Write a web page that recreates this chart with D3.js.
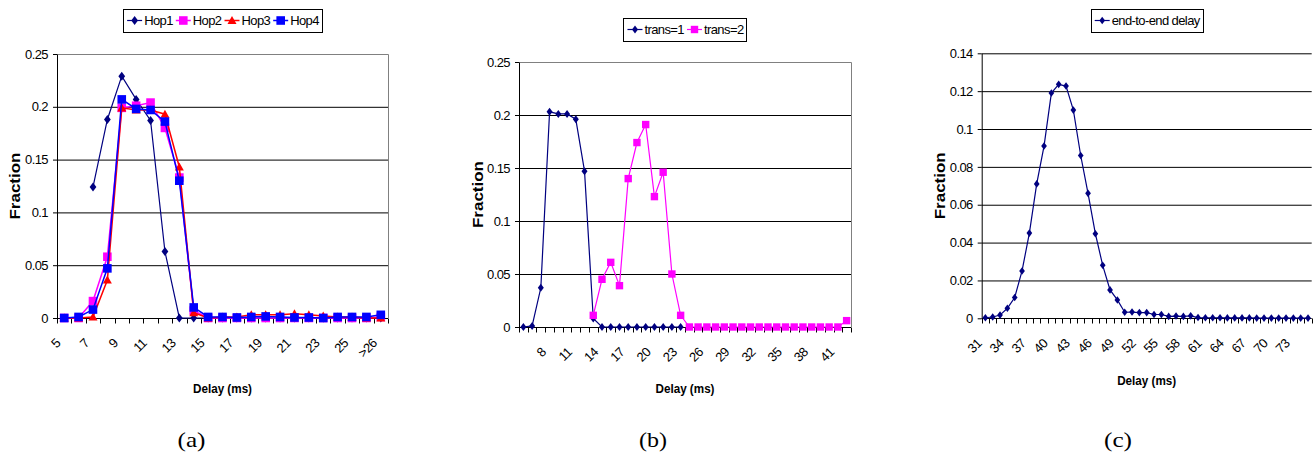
<!DOCTYPE html>
<html lang="en">
<head>
<meta charset="UTF-8">
<title>Delay distributions</title>
<script src="https://d3js.org/d3.v7.min.js"></script>
<style>
  body { margin: 0; background: #fff; }
  svg { display: block; }
  .caption { font-family: "Liberation Serif", "Times New Roman", serif; font-size: 21px; }
</style>
</head>
<body>
<svg width="1314" height="452"></svg>
<script>
// ---- (a) per-hop delay ----
const hopCats = ["5","6","7","8","9","10","11","12","13","14","15","16","17","18","19","20","21","22","23","24","25","26",">26"];
const hopTicks = ["5","7","9","11","13","15","17","19","21","23","25",">26"];
const hop1 = [null, null, 0.124, 0.188, 0.229, 0.207, 0.187, 0.063, 0, 0, 0, 0, 0, 0, 0, 0, 0, 0, 0, 0, 0, 0, 0];
const hop2 = [0, 0, 0.016, 0.058, 0.199, 0.201, 0.204, 0.180, 0.133, 0.007, 0, 0, 0, 0, 0, 0, 0, 0, 0, 0, 0, 0, 0.001];
const hop3 = [0, 0, 0.001, 0.036, 0.199, 0.197, 0.197, 0.193, 0.143, 0.005, 0, 0.001, 0.001, 0.003, 0.003, 0.003, 0.004, 0.003, 0.002, 0.001, 0.001, 0, 0];
const hop4 = [0, 0.001, 0.008, 0.047, 0.207, 0.198, 0.197, 0.186, 0.130, 0.010, 0.001, 0.001, 0.0005, 0.001, 0.0015, 0.001, 0.0005, 0.0005, 0, 0.001, 0.001, 0.001, 0.003];
const hopY = [0, 0.05, 0.1, 0.15, 0.2, 0.25];

// ---- (b) transmissions ----
const transCats = ["5","6","7","8","9","10","11","12","13","14","15","16","17","18","19","20","21","22","23","24",
  "25","26","27","28","29","30","31","32","33","34","35","36","37","38","39","40","41","42"];
const transTicks = ["8","11","14","17","20","23","26","29","32","35","38","41"];
const trans1 = [0, 0.001, 0.037, 0.203, 0.201, 0.201, 0.196, 0.147, 0.008, 0, 0, 0, 0, 0, 0, 0, 0, 0, 0,
  null, null, null, null, null, null, null, null, null, null, null, null, null, null, null, null, null, null, null];
const trans2 = [null, null, null, null, null, null, null, null,
  0.011, 0.045, 0.061, 0.039, 0.140, 0.174, 0.191, 0.123, 0.146, 0.050, 0.011,
  0, 0, 0, 0, 0, 0, 0, 0, 0, 0, 0, 0, 0, 0, 0, 0, 0, 0, 0.006];
const transY = [0, 0.05, 0.1, 0.15, 0.2, 0.25];

// ---- (c) end-to-end ----
const e2eCats = ["31","32","33","34","35","36","37","38","39","40","41","42","43","44","45","46","47","48","49","50",
  "51","52","53","54","55","56","57","58","59","60","61","62","63","64","65","66","67","68","69","70",
  "71","72","73","74","75"];
const e2eTicks = ["31","34","37","40","43","46","49","52","55","58","61","64","67","70","73"];
const e2e = [0.0003, 0.0007, 0.0017, 0.0053, 0.011, 0.025, 0.045, 0.071, 0.091, 0.119,
  0.1236, 0.1227, 0.110, 0.086, 0.066, 0.0447, 0.028, 0.015, 0.0097, 0.0032,
  0.0033, 0.003, 0.003, 0.002, 0.002, 0.001, 0.0012, 0.001, 0.0013, 0.0004,
  0.0003, 0.0003, 0.0003, 0.0002, 0.0002, 0.0002, 0.0002, 0.0001, 0.0001, 0.0001,
  0.0001, 0.0001, 0.0001, 0.0001, 0.0001];
const e2eY = [0, 0.02, 0.04, 0.06, 0.08, 0.1, 0.12, 0.14];

const FONT = '"Liberation Sans", Arial, sans-serif';
const svg = d3.select("svg");

// marker shapes, s = half size
function marker(shape, s) {
  if (shape === "diamond") return `M0,${-s}L${s * 0.75},0L0,${s}L${-s * 0.75},0Z`;
  if (shape === "square") return `M${-s},${-s}H${s}V${s}H${-s}Z`;
  return `M0,${-s}L${s},${s * 0.8}L${-s},${s * 0.8}Z`;
}

function drawPanel(p) {
  const g = svg.append("g");
  const x = d3.scaleBand().domain(p.cats).range([p.left, p.right]);
  const y = d3.scaleLinear().domain([0, p.ymax]).range([p.bottom, p.top]);
  const cx = c => x(c) + x.bandwidth() / 2;

  // gridlines
  const grid = p.yTicks.filter(v => v > 0 && (v < p.ymax || !p.frame));
  g.append("g")
   .attr("transform", `translate(${p.left},0)`)
   .call(d3.axisLeft(y).tickValues(grid).tickSize(-(p.right - p.left)).tickFormat(""))
   .call(a => a.select(".domain").remove())
   .selectAll("line").attr("stroke", "#000");

  // gray plot frame (top + right)
  if (p.frame) {
    g.append("path")
     .attr("d", `M${p.left},${Math.round(y(p.ymax)) + 0.5}H${Math.round(p.right) + 0.5}V${p.bottom}`)
     .attr("fill", "none").attr("stroke", "#808080");
  }

  // y axis
  g.append("g")
   .attr("transform", `translate(${p.left},0)`)
   .call(d3.axisLeft(y).tickValues(p.yTicks).tickSize(4).tickSizeOuter(0).tickPadding(5).tickFormat(d => d))
   .attr("font-family", FONT).attr("font-size", 13)
   .call(a => a.selectAll("text").attr("letter-spacing", -0.6));

  // x axis line and boundary ticks
  const by = Math.round(p.bottom) + 0.5;
  g.append("line").attr("x1", p.left).attr("x2", p.right).attr("y1", by).attr("y2", by).attr("stroke", "#000");
  const bounds = p.cats.map(c => x(c)).concat([p.right]);
  g.selectAll(".xt").data(bounds).enter().append("line")
   .attr("x1", d => Math.round(d) + 0.5).attr("x2", d => Math.round(d) + 0.5)
   .attr("y1", by).attr("y2", by + 5).attr("stroke", "#000");

  g.selectAll(".xl").data(p.xTicks).enter().append("text")
   .attr("transform", d => `translate(${cx(d) - 3},${p.bottom + 26}) rotate(-45)`)
   .attr("text-anchor", "end")
   .attr("font-family", FONT).attr("font-size", 13).attr("letter-spacing", -0.6)
   .text(d => d);

  // axis titles
  g.append("text")
   .attr("transform", `translate(${p.fracX},${(p.top + p.bottom) / 2}) rotate(-90)`)
   .attr("text-anchor", "middle").attr("dy", "0.36em")
   .attr("font-family", FONT).attr("font-size", 14).attr("font-weight", "bold")
   .attr("textLength", 67).attr("lengthAdjust", "spacingAndGlyphs")
   .text("Fraction");

  g.append("text")
   .attr("x", (p.left + p.right) / 2).attr("y", p.delayY).attr("dy", "0.36em")
   .attr("text-anchor", "middle")
   .attr("font-family", FONT).attr("font-size", 13.5).attr("font-weight", "bold")
   .attr("textLength", 59).attr("lengthAdjust", "spacingAndGlyphs")
   .text("Delay (ms)");

  // series
  p.series.forEach(s => {
    const line = d3.line()
      .defined(d => d != null)
      .x((d, i) => cx(p.cats[i]))
      .y(d => y(d));
    g.append("path").datum(s.values)
     .attr("d", line).attr("fill", "none")
     .attr("stroke", s.color).attr("stroke-width", s.width);
    g.selectAll(null).data(s.values.map((v, i) => [p.cats[i], v]).filter(d => d[1] != null))
     .enter().append("path")
     .attr("transform", d => `translate(${cx(d[0])},${y(d[1])})`)
     .attr("d", marker(s.shape, s.size))
     .attr("fill", s.color);
  });

  // legend
  const lg = g.append("g");
  let cur = 0;
  p.series.forEach(s => {
    const it = lg.append("g").attr("transform", `translate(${cur},0)`);
    it.append("line").attr("x1", 0).attr("x2", 15).attr("y1", 0).attr("y2", 0)
      .attr("stroke", s.color).attr("stroke-width", s.width);
    it.append("path").attr("transform", "translate(7.5,0)").attr("d", marker(s.shape, s.size)).attr("fill", s.color);
    const t = it.append("text").attr("x", 17).attr("dy", "0.35em")
      .attr("font-family", FONT).attr("font-size", 13).attr("letter-spacing", -0.6)
      .text(s.name);
    cur += 17 + t.node().getComputedTextLength() + 3;
  });
  const lw = cur - 3 + 7;
  const lx = (p.left + p.right) / 2 - lw / 2;
  lg.attr("transform", `translate(${lx + 4},${p.legendY + 11.5})`);
  g.insert("rect", () => lg.node())
   .attr("x", Math.round(lx) + 0.5).attr("y", Math.round(p.legendY) + 0.5)
   .attr("width", Math.round(lw)).attr("height", 23)
   .attr("fill", "#fff").attr("stroke", "#000");

  svg.append("text").attr("class", "caption")
   .attr("x", p.capX).attr("y", 447).attr("text-anchor", "middle")
   .attr("textLength", 28).attr("lengthAdjust", "spacingAndGlyphs")
   .text(p.caption);
}

drawPanel({
  cats: hopCats, xTicks: hopTicks, yTicks: hopY, ymax: 0.25,
  left: 57, right: 388, top: 54, bottom: 318, frame: true,
  fracX: 15, delayY: 388, legendY: 9, capX: 191.5, caption: "(a)",
  series: [
    { name: "Hop1", values: hop1, color: "#000080", shape: "diamond", size: 4.5, width: 1.2 },
    { name: "Hop2", values: hop2, color: "#FF00FF", shape: "square", size: 4.3, width: 1.5 },
    { name: "Hop3", values: hop3, color: "#FF0000", shape: "triangle", size: 4.5, width: 1.5 },
    { name: "Hop4", values: hop4, color: "#0000FF", shape: "square", size: 4.3, width: 1.5 }
  ]
});

drawPanel({
  cats: transCats, xTicks: transTicks, yTicks: transY, ymax: 0.25,
  left: 519, right: 851, top: 62, bottom: 327, frame: true,
  fracX: 478, delayY: 388, legendY: 18, capX: 653, caption: "(b)",
  series: [
    { name: "trans=1", values: trans1, color: "#000080", shape: "diamond", size: 4, width: 1.2 },
    { name: "trans=2", values: trans2, color: "#FF00FF", shape: "square", size: 3.7, width: 1.2 }
  ]
});

drawPanel({
  cats: e2eCats, xTicks: e2eTicks, yTicks: e2eY, ymax: 0.14,
  left: 981.7, right: 1311.7, top: 53.3, bottom: 318.3, frame: false,
  fracX: 940, delayY: 380, legendY: 9, capX: 1118, caption: "(c)",
  series: [
    { name: "end-to-end delay", values: e2e, color: "#000080", shape: "diamond", size: 3.8, width: 1.2 }
  ]
});
</script>
</body>
</html>
